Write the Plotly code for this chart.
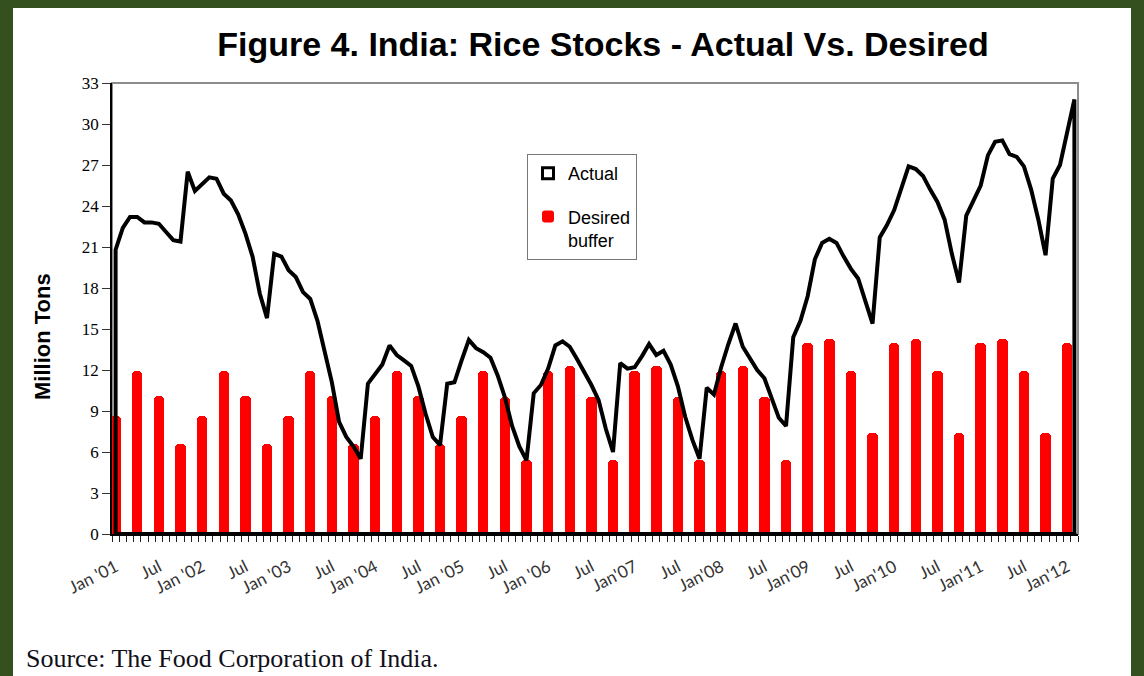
import plotly.graph_objects as go

# Monthly rice stocks, Jan 2001 .. Feb 2012 (million tons)
actual = [
    20.8, 22.4, 23.2, 23.2, 22.8, 22.8, 22.7, 22.1, 21.5, 21.4, 26.5, 25.1,   # 2001
    25.6, 26.1, 26.0, 24.9, 24.4, 23.4, 22.0, 20.3, 17.6, 15.8, 20.5, 20.3,   # 2002
    19.3, 18.8, 17.7, 17.2, 15.6, 13.4, 11.1, 8.2, 7.1, 6.4, 5.5, 11.0,      # 2003
    11.7, 12.4, 13.8, 13.1, 12.7, 12.3, 10.8, 8.8, 7.1, 6.5, 11.0, 11.1,     # 2004
    12.7, 14.2, 13.6, 13.3, 12.9, 11.6, 10.0, 7.9, 6.4, 5.4, 10.3, 10.9,     # 2005
    12.1, 13.8, 14.1, 13.7, 12.8, 11.9, 10.9, 9.8, 7.7, 6.0, 12.5, 12.1,     # 2006
    12.2, 13.0, 13.9, 13.1, 13.4, 12.4, 10.8, 8.6, 6.9, 5.5, 10.7, 10.2,     # 2007
    12.2, 13.9, 15.4, 13.7, 12.8, 12.0, 11.4, 9.9, 8.5, 7.9, 14.4, 15.6,     # 2008
    17.4, 20.1, 21.3, 21.6, 21.3, 20.3, 19.4, 18.7, 17.1, 15.4, 21.7, 22.6,  # 2009
    23.7, 25.4, 26.9, 26.7, 26.2, 25.2, 24.3, 23.0, 20.5, 18.4, 23.3, 24.4,  # 2010
    25.5, 27.7, 28.7, 28.8, 27.8, 27.6, 26.9, 25.2, 23.0, 20.4, 26.0, 27.0,  # 2011
    29.5, 31.8,                                                              # 2012
]

# Desired buffer norms, quarterly (Jan, Apr, Jul, Oct), Jan 2001 .. Jan 2012
desired = [
    8.6, 11.9, 10.1, 6.6,   # 2001
    8.6, 11.9, 10.1, 6.6,   # 2002
    8.6, 11.9, 10.1, 6.6,   # 2003
    8.6, 11.9, 10.1, 6.6,   # 2004
    8.6, 11.9, 10.0, 5.4,   # 2005
    11.9, 12.3, 10.0, 5.4,  # 2006
    11.9, 12.3, 10.0, 5.4,  # 2007
    11.9, 12.3, 10.0, 5.4,  # 2008
    14.0, 14.3, 11.9, 7.4,  # 2009
    14.0, 14.3, 11.9, 7.4,  # 2010
    14.0, 14.3, 11.9, 7.4,  # 2011
    14.0,                   # 2012
]

tick_labels = ["Jan '01", "Jul", "Jan '02", "Jul", "Jan '03", "Jul", "Jan '04", "Jul",
               "Jan '05", "Jul", "Jan '06", "Jul", "Jan'07", "Jul", "Jan'08", "Jul",
               "Jan'09", "Jul", "Jan'10", "Jul", "Jan'11", "Jul", "Jan'12"]

n = len(actual)
month_idx = list(range(n))
desired_idx = [3 * k for k in range(len(desired))]
tick_idx = [6 * k for k in range(len(tick_labels))]

W, H = 1144, 676
L, R, T, B = 112, 66, 83, 142
pw, ph = W - L - R, H - T - B


def px_x(p):
    return (p - L) / pw


def px_y(p):
    return (H - B - p) / ph


# Excel area-chart outline: drop to zero at both ends and run along the base
outline_x = [month_idx[0]] + month_idx + [month_idx[-1], month_idx[0]]
outline_y = [0] + actual + [0, 0]

fig = go.Figure()

fig.add_trace(go.Bar(
    x=desired_idx, y=desired, name="Desired<br>buffer",
    width=1.45, marker=dict(color="#ff0000", line=dict(width=0), cornerradius=4),
    legendgroup="b", legendrank=2,
))

fig.add_trace(go.Scatter(
    x=outline_x, y=outline_y,
    mode="lines", name="Actual", showlegend=False,
    line=dict(color="black", width=4), cliponaxis=False,
    legendgroup="a",
))

# Legend symbol for the area series (boxed square, as in the original)
fig.add_trace(go.Scatter(
    x=[None], y=[None], mode="markers", name="Actual",
    marker=dict(symbol="square", size=11, color="white",
                line=dict(color="black", width=3)),
    legendgroup="a", legendrank=1, hoverinfo="skip",
))

fig.update_layout(
    width=W, height=H,
    margin=dict(l=L, r=R, t=T, b=B),
    paper_bgcolor="#34501f",
    plot_bgcolor="white",
    title=dict(
        text="<b>Figure 4. India: Rice Stocks - Actual Vs. Desired</b>",
        font=dict(family="Liberation Sans, Arial, sans-serif", size=34, color="black"),
        x=px_x(603), xref="paper", xanchor="center",
        y=1 - 44 / H, yref="container", yanchor="middle",
    ),
    bargap=0,
    showlegend=True,
    legend=dict(
        x=px_x(527), y=px_y(154), xanchor="left", yanchor="top",
        bgcolor="white", bordercolor="#777777", borderwidth=1,
        font=dict(family="Liberation Sans, Arial, sans-serif", size=18, color="black"),
        tracegroupgap=17, itemwidth=30, valign="top",
    ),
    shapes=[
        # white page panel
        dict(type="rect", xref="paper", yref="paper",
             x0=px_x(13), x1=px_x(1131), y0=px_y(676), y1=px_y(8),
             fillcolor="white", line=dict(width=0), layer="below"),
        # grey plot frame
        dict(type="rect", xref="x domain", yref="y domain",
             x0=0, x1=1, y0=0, y1=1, line=dict(color="#8c8c8c", width=2),
             layer="below"),
    ],
    annotations=[
        dict(text="<b>Million Tons</b>", textangle=-90, showarrow=False,
             xref="paper", yref="paper", x=px_x(42), y=px_y(337),
             xanchor="center", yanchor="middle",
             font=dict(family="Liberation Sans, Arial, sans-serif", size=22, color="black")),
        dict(text="Source: The Food Corporation of India.", showarrow=False,
             xref="paper", yref="paper", x=px_x(24), y=px_y(658),
             xanchor="left", yanchor="middle",
             font=dict(family="Liberation Serif, Times New Roman, serif", size=26, color="#10101a")),
    ],
)

fig.update_xaxes(
    range=[-0.5, n - 0.5],
    tickmode="array", tickvals=tick_idx, ticktext=tick_labels,
    tickangle=-27, ticks="",
    tickfont=dict(family="Lato, sans-serif", size=17, color="#333333"),
    ticklabelstandoff=15,
    minor=dict(tickmode="array", tickvals=[k - 0.5 for k in range(n + 1)],
               ticks="outside", ticklen=6, tickwidth=1, tickcolor="#222222"),
    showline=True, linecolor="black", linewidth=1.5,
    showgrid=False, zeroline=False,
)

fig.update_yaxes(
    range=[0, 33], tickmode="array", tickvals=list(range(0, 34, 3)),
    ticks="outside", ticklen=8, tickwidth=1, tickcolor="#333333",
    tickfont=dict(family="Liberation Serif, Times New Roman, serif", size=17, color="black"),
    showline=True, linecolor="black", linewidth=1.5,
    showgrid=False, zeroline=False,
)

fig.write_html("out.html", config={"displayModeBar": False},
               post_script="document.body.style.margin='0';")
